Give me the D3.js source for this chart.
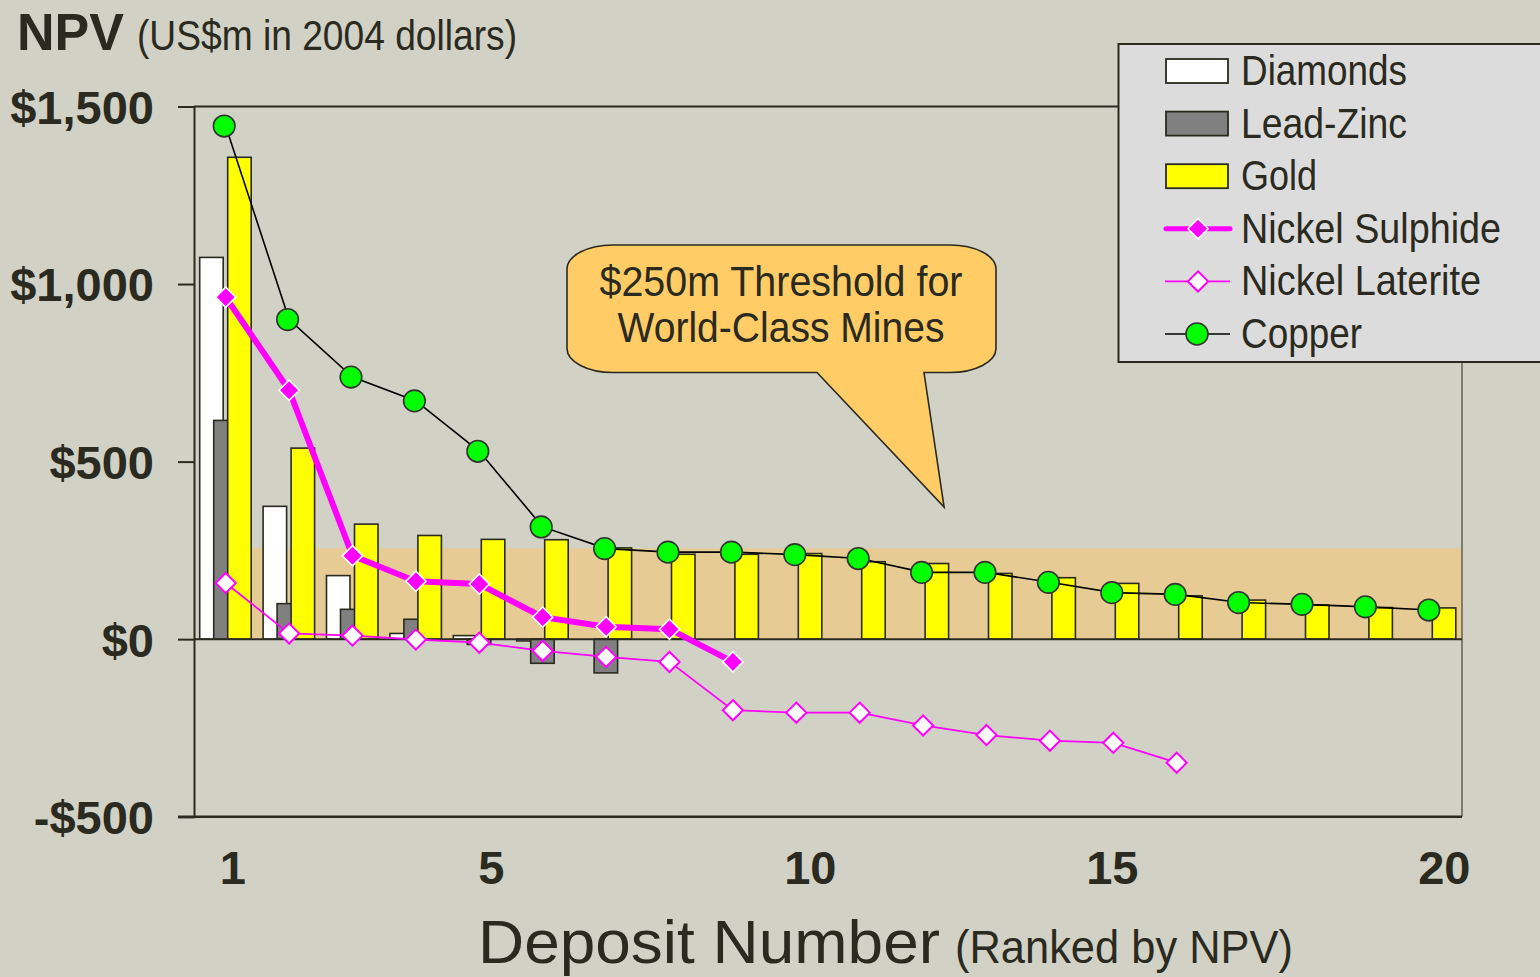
<!DOCTYPE html>
<html><head><meta charset="utf-8">
<script src="https://cdn.jsdelivr.net/npm/d3@7"></script>
<style>
html,body{margin:0;padding:0;background:#D1D1C5;}
svg{display:block;}
</style></head>
<body>
<svg id="chart" width="1540" height="977"></svg>
<script>
// ---- data ----
const deposits = d3.range(1, 21);
const diamonds = [1075, 374, 179, 16, 10, -5];
const leadZinc = [616, 100, 84, 56, -15, -68, -95];
const gold = [1357, 538, 324, 292, 281, 280, 257, 239, 239, 241, 218, 213, 185, 173, 157, 122, 110, 96, 89, 88];
const nickelSulphide = [963, 701, 235, 163, 155, 62, 35, 28, -64];
const nickelLaterite = [158, 16, 10, -1, -10, -33, -50, -64, -200, -207, -207, -243, -270, -286, -292, -348];
const copper = [1445, 900, 738, 671, 529, 316, 255, 245, 245, 238, 227, 188, 188, 160, 131, 126, 103, 98, 91, 82];
const yTicks = [-500, 0, 500, 1000, 1500];
const xTickLabels = [1, 5, 10, 15, 20];
const threshold = 256;
const barSeries = [
  {name: "Diamonds", values: diamonds, fill: "#FFFFFF"},
  {name: "Lead-Zinc", values: leadZinc, fill: "#808080"},
  {name: "Gold", values: gold, fill: "#FFFF00"}
];

const INK = "#2A2A20";
const SANS = "'Liberation Sans',Arial,sans-serif";
const NARROW = "'Liberation Sans Narrow','Arial Narrow','Liberation Sans',Arial,sans-serif";

const svg = d3.select("#chart");
const L = 194, R = 1462, T = 106.5, B = 816.7;
const x = d3.scaleBand().domain(deposits).range([L, R]).padding(0);
const y = d3.scaleLinear().domain([-500, 1500]).range([B, T]);
const cx = d => x(d) + x.bandwidth() / 2;

// narrow text helper (fits measured width)
function narrow(parent, tx, ty, str, size, len, anchor) {
  return parent.append("text").attr("x", tx).attr("y", ty).attr("fill", INK)
    .attr("font-family", NARROW).attr("font-size", size)
    .attr("textLength", len).attr("lengthAdjust", "spacingAndGlyphs")
    .attr("text-anchor", anchor || "start").text(str);
}

// title
svg.append("text").attr("x", 17).attr("y", 50).attr("fill", INK)
  .attr("font-family", SANS).attr("font-weight", "bold").attr("font-size", 52).text("NPV");
narrow(svg, 137, 50, "(US$m in 2004 dollars)", 42, 380);

// threshold band
svg.append("rect").attr("x", cx(1) - 26).attr("y", y(threshold))
  .attr("width", R - (cx(1) - 26)).attr("height", y(0) - y(threshold))
  .attr("fill", "#E6CC94");

// frame
svg.append("line").attr("x1", R).attr("x2", R).attr("y1", T).attr("y2", B).attr("stroke", INK).attr("stroke-width", 1);
svg.append("line").attr("x1", L).attr("x2", R).attr("y1", T).attr("y2", T).attr("stroke", INK).attr("stroke-width", 2);

// y axis
const yAxis = d3.axisLeft(y).tickValues(yTicks).tickSize(16)
  .tickFormat(d => (d < 0 ? "-$" : "$") + d3.format(",")(Math.abs(d)));
const ya = svg.append("g").attr("transform", `translate(${L},0)`).call(yAxis);
ya.select(".domain").attr("stroke", INK).attr("stroke-width", 2);
ya.selectAll(".tick line").attr("stroke", INK).attr("stroke-width", 2);
ya.selectAll(".tick text").attr("x", -40).attr("dy", "0.36em").attr("fill", INK)
  .attr("font-family", SANS).attr("font-weight", "bold").attr("font-size", 47);

// bars
const barW = 23.5, step = 14, start = -26;
barSeries.forEach((s, i) => {
  svg.append("g").selectAll("rect").data(s.values).join("rect")
    .attr("x", (v, j) => cx(deposits[j]) + start + i * step)
    .attr("width", barW)
    .attr("y", v => y(Math.max(0, v)))
    .attr("height", v => Math.abs(y(v) - y(0)))
    .attr("fill", s.fill).attr("stroke", INK).attr("stroke-width", 1.6);
});

// zero line & bottom line
svg.append("line").attr("x1", L).attr("x2", R).attr("y1", y(0)).attr("y2", y(0)).attr("stroke", INK).attr("stroke-width", 2);
svg.append("line").attr("x1", L - 16).attr("x2", R).attr("y1", B).attr("y2", B).attr("stroke", INK).attr("stroke-width", 2.5);

// x tick labels
const xa = svg.append("g").attr("transform", `translate(0,${B})`)
  .call(d3.axisBottom(x).tickValues(xTickLabels).tickSize(0).tickPadding(34));
xa.select(".domain").remove();
xa.selectAll(".tick text").attr("fill", INK).attr("font-family", SANS).attr("font-weight", "bold").attr("font-size", 47)
  .attr("dx", (d, i) => [7, 12, 14, -1, 14][i]);

// x axis title
narrow(svg, 478, 963, "Deposit Number", 61, 462);
narrow(svg, 955, 963, "(Ranked by NPV)", 47, 338);

// lines
const line = d3.line().x((v, j) => cx(deposits[j])).y(v => y(v));
const diamond = d3.symbol().type(d3.symbolDiamond2).size(260);

// nickel laterite
svg.append("path").datum(nickelLaterite).attr("d", line).attr("fill", "none").attr("stroke", "#FF00FF").attr("stroke-width", 1.8);
svg.append("g").selectAll("path").data(nickelLaterite).join("path")
  .attr("transform", (v, j) => `translate(${cx(deposits[j])},${y(v)})`)
  .attr("d", diamond).attr("fill", "#FFFFFF").attr("stroke", "#FF00FF").attr("stroke-width", 2);

// nickel sulphide
svg.append("path").datum(nickelSulphide).attr("d", line).attr("fill", "none").attr("stroke", "#FF00FF").attr("stroke-width", 6).attr("stroke-linejoin", "round");
svg.append("g").selectAll("path").data(nickelSulphide).join("path")
  .attr("transform", (v, j) => `translate(${cx(deposits[j])},${y(v)})`)
  .attr("d", diamond).attr("fill", "#FF00FF").attr("stroke", "#FFFFFF").attr("stroke-width", 1.6);

// copper
svg.append("path").datum(copper).attr("d", line).attr("fill", "none").attr("stroke", "#000").attr("stroke-width", 1.6);
svg.append("g").selectAll("circle").data(copper).join("circle")
  .attr("cx", (v, j) => cx(deposits[j]) - 1.5).attr("cy", v => y(v)).attr("r", 10.8)
  .attr("fill", "#00FF00").attr("stroke", "#333333").attr("stroke-width", 1.6);

// callout
const bx0 = 567, bx1 = 996, by0 = 245, by1 = 372.5, rx = 46, ry = 24;
const tipX = cx(12) + 21, tipY = y(372);
const callout = `M${bx0 + rx},${by0} H${bx1 - rx} A${rx},${ry} 0 0 1 ${bx1},${by0 + ry} V${by1 - ry} A${rx},${ry} 0 0 1 ${bx1 - rx},${by1}
 H924 L${tipX},${tipY} L817,${by1} H${bx0 + rx} A${rx},${ry} 0 0 1 ${bx0},${by1 - ry} V${by0 + ry} A${rx},${ry} 0 0 1 ${bx0 + rx},${by0} Z`;
svg.append("path").attr("d", callout).attr("fill", "#FFCC66").attr("stroke", INK).attr("stroke-width", 1.6);
narrow(svg, 781, 296, "$250m Threshold for", 43, 363, "middle");
narrow(svg, 781, 342, "World-Class Mines", 43, 327, "middle");

// legend
const lg = svg.append("g");
lg.append("rect").attr("x", 1118.5).attr("y", 44).attr("width", 425).attr("height", 318)
  .attr("fill", "#DCDCDC").attr("stroke", INK).attr("stroke-width", 2);
const legendItems = [
  {name: "Diamonds", type: "bar", fill: "#FFFFFF", w: 166},
  {name: "Lead-Zinc", type: "bar", fill: "#808080", w: 166},
  {name: "Gold", type: "bar", fill: "#FFFF00", w: 76},
  {name: "Nickel Sulphide", type: "sulphide", w: 260},
  {name: "Nickel Laterite", type: "laterite", w: 240},
  {name: "Copper", type: "copper", w: 121}
];
legendItems.forEach((it, i) => {
  const cy = 71 + i * 52.6;
  const g = lg.append("g");
  if (it.type === "bar") {
    g.append("rect").attr("x", 1166).attr("y", cy - 12).attr("width", 62).attr("height", 24)
      .attr("fill", it.fill).attr("stroke", INK).attr("stroke-width", 1.8);
  } else if (it.type === "sulphide") {
    g.append("line").attr("x1", 1166).attr("x2", 1230).attr("y1", cy).attr("y2", cy).attr("stroke", "#FF00FF").attr("stroke-width", 5).attr("stroke-linecap", "round");
    g.append("path").attr("transform", `translate(1198,${cy})`).attr("d", diamond).attr("fill", "#FF00FF").attr("stroke", "#FFFFFF").attr("stroke-width", 1.6);
  } else if (it.type === "laterite") {
    g.append("line").attr("x1", 1165).attr("x2", 1230).attr("y1", cy).attr("y2", cy).attr("stroke", "#FF00FF").attr("stroke-width", 1.6);
    g.append("path").attr("transform", `translate(1198,${cy})`).attr("d", diamond).attr("fill", "#FFFFFF").attr("stroke", "#FF00FF").attr("stroke-width", 2);
  } else {
    g.append("line").attr("x1", 1165).attr("x2", 1230).attr("y1", cy).attr("y2", cy).attr("stroke", "#000").attr("stroke-width", 1.6);
    g.append("circle").attr("cx", 1197).attr("cy", cy).attr("r", 11).attr("fill", "#00FF00").attr("stroke", "#333").attr("stroke-width", 1.6);
  }
  narrow(g, 1241, cy + 14, it.name, 42, it.w);
});
</script>
</body></html>
